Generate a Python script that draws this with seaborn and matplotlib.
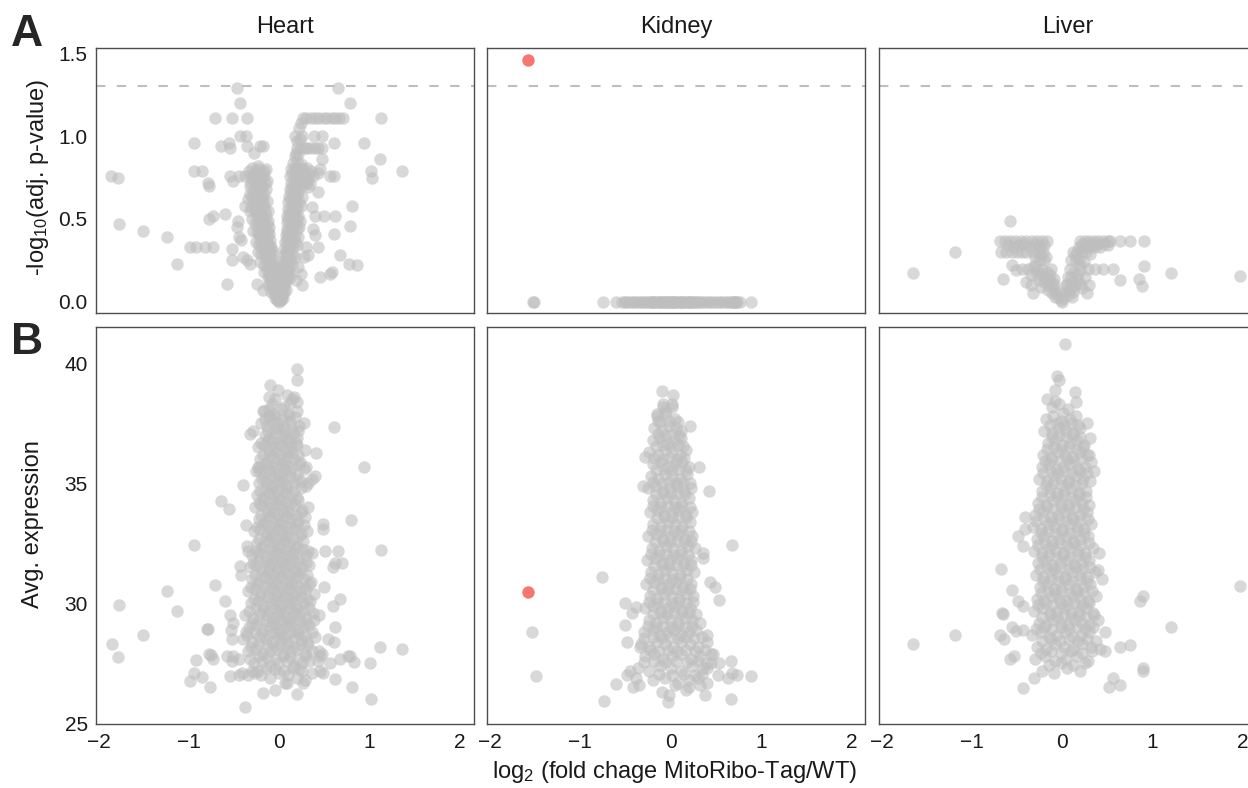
import pandas as pd
import matplotlib
matplotlib.use("Agg")
import matplotlib.pyplot as plt
import seaborn as sns

tissues = ["Heart", "Kidney", "Liver"]
x_ticks = [-2, -1, 0, 1, 2]
p_ticks = [0.0, 0.5, 1.0, 1.5]
expr_ticks = [25, 30, 35, 40]
p_cutoff = 1.30  # -log10(0.05)

# ---- Row A: volcano points (log2 fold change, -log10 adj. p) ----
heart_volcano_spread = [
    (-1.86, 0.76), (-1.79, 0.75), (-1.77, 0.47), (-1.51, 0.43), (-1.24, 0.39), (-1.13, 0.23),
    (-0.99, 0.33), (-0.92, 0.33), (-0.82, 0.33), (-0.73, 0.33), (-0.95, 0.96), (-0.95, 0.79),
    (-0.86, 0.79), (-0.79, 0.72), (-0.78, 0.70), (-0.78, 0.50), (-0.73, 0.52), (-0.71, 1.11),
    (-0.65, 0.94), (-0.60, 0.53), (-0.58, 0.11), (-0.56, 0.96), (-0.55, 0.93), (-0.55, 0.76),
    (-0.51, 0.73), (-0.52, 1.11), (-0.52, 0.32), (-0.52, 0.25), (-0.47, 1.29), (-0.44, 1.20),
    (-0.44, 1.00), (-0.37, 1.00), (-0.36, 1.11), (-0.45, 0.76), (-0.38, 0.76), (-0.46, 0.49),
    (-0.47, 0.45), (-0.45, 0.39), (-0.43, 0.37), (-0.36, 0.94), (-0.28, 0.90), (-0.21, 0.94),
    (-0.18, 0.94), (-0.36, 0.25), (-0.40, 0.27), (-0.32, 0.23), (-0.25, 0.11), (-0.18, 0.07),
    (-0.13, 0.15), (-0.35, 0.62), (-0.33, 0.55), (-0.38, 0.58),
    (0.65, 1.29), (0.78, 1.20), (1.13, 1.11), (0.94, 0.96), (1.11, 0.86), (1.01, 0.79),
    (1.03, 0.75), (1.36, 0.79), (0.80, 0.58), (0.78, 0.46), (0.60, 0.41), (0.62, 0.52),
    (0.49, 0.52), (0.67, 0.28), (0.77, 0.23), (0.86, 0.22), (0.56, 0.17), (0.58, 0.18),
    (0.45, 0.15), (0.43, 0.33), (0.26, 1.11), (0.30, 1.11), (0.35, 1.11), (0.40, 1.11),
    (0.44, 1.11), (0.49, 1.11), (0.53, 1.11), (0.58, 1.11), (0.62, 1.11), (0.66, 1.11),
    (0.70, 1.11), (0.24, 1.08), (0.17, 1.00), (0.25, 1.00), (0.38, 1.00), (0.47, 1.00),
    (0.60, 0.96), (0.20, 0.93), (0.24, 0.93), (0.28, 0.93), (0.31, 0.93), (0.35, 0.93),
    (0.39, 0.93), (0.43, 0.93), (0.47, 0.93), (0.18, 0.90), (0.47, 0.86), (0.45, 0.80),
    (0.43, 0.78), (0.56, 0.76), (0.60, 0.76), (0.43, 0.66), (0.36, 0.57), (0.39, 0.52),
    (0.37, 0.44), (0.39, 0.40), (0.30, 0.33), (0.27, 0.27), (0.32, 0.28), (0.21, 0.21),
    (0.24, 0.17), (0.18, 0.13), (0.25, 0.10),
]
heart_volcano_core = [
    (-0.30, 0.81), (-0.26, 0.79), (-0.22, 0.80), (-0.19, 0.78), (-0.15, 0.80),
    (-0.33, 0.76), (-0.29, 0.75), (-0.25, 0.77), (-0.21, 0.74), (-0.17, 0.76), (-0.14, 0.73),
    (-0.31, 0.72), (-0.27, 0.70), (-0.23, 0.71), (-0.19, 0.69), (-0.16, 0.72),
    (-0.29, 0.67), (-0.25, 0.66), (-0.21, 0.68), (-0.17, 0.65),
    (-0.30, 0.63), (-0.26, 0.61), (-0.22, 0.64), (-0.18, 0.60),
    (-0.28, 0.59), (-0.24, 0.57), (-0.20, 0.58), (-0.16, 0.55),
    (-0.27, 0.55), (-0.23, 0.53), (-0.19, 0.51), (-0.15, 0.52),
    (-0.25, 0.50), (-0.21, 0.48), (-0.17, 0.47), (-0.13, 0.49),
    (-0.24, 0.45), (-0.20, 0.44), (-0.16, 0.43), (-0.12, 0.45),
    (-0.22, 0.41), (-0.18, 0.40), (-0.14, 0.39), (-0.11, 0.41),
    (-0.21, 0.37), (-0.17, 0.36), (-0.13, 0.35), (-0.10, 0.37),
    (-0.19, 0.33), (-0.15, 0.32), (-0.12, 0.31), (-0.09, 0.33),
    (-0.17, 0.29), (-0.14, 0.28), (-0.10, 0.27), (-0.07, 0.29),
    (-0.15, 0.25), (-0.12, 0.24), (-0.09, 0.23), (-0.06, 0.25),
    (-0.13, 0.21), (-0.10, 0.20), (-0.07, 0.19), (-0.05, 0.21),
    (-0.11, 0.17), (-0.08, 0.16), (-0.06, 0.15), (-0.04, 0.17),
    (-0.09, 0.13), (-0.07, 0.12), (-0.04, 0.11), (-0.03, 0.13),
    (-0.07, 0.09), (-0.05, 0.08), (-0.03, 0.07), (-0.02, 0.09),
    (-0.05, 0.05), (-0.03, 0.04), (-0.02, 0.03), (-0.01, 0.05),
    (-0.03, 0.02), (-0.01, 0.01), (0.00, 0.00), (0.01, 0.01),
    (0.22, 1.05), (0.19, 0.97), (0.23, 0.98), (0.17, 0.88), (0.21, 0.89),
    (0.15, 0.84), (0.19, 0.85), (0.24, 0.83),
    (0.13, 0.80), (0.17, 0.81), (0.21, 0.79), (0.26, 0.80), (0.31, 0.81), (0.35, 0.79),
    (0.12, 0.76), (0.16, 0.75), (0.20, 0.77), (0.24, 0.75), (0.28, 0.76), (0.32, 0.74), (0.37, 0.76),
    (0.13, 0.72), (0.17, 0.71), (0.21, 0.73), (0.25, 0.70), (0.30, 0.72), (0.34, 0.71),
    (0.12, 0.68), (0.16, 0.67), (0.20, 0.69),
    (0.11, 0.64), (0.15, 0.63), (0.19, 0.65),
    (0.10, 0.60), (0.14, 0.59), (0.18, 0.61), (0.22, 0.60),
    (0.10, 0.56), (0.14, 0.55), (0.18, 0.57),
    (0.09, 0.52), (0.13, 0.51), (0.17, 0.53), (0.21, 0.52),
    (0.08, 0.48), (0.12, 0.47), (0.16, 0.49),
    (0.08, 0.44), (0.11, 0.43), (0.15, 0.45), (0.19, 0.44),
    (0.07, 0.40), (0.10, 0.39), (0.14, 0.41),
    (0.06, 0.36), (0.09, 0.35), (0.13, 0.37), (0.17, 0.36),
    (0.05, 0.32), (0.08, 0.31), (0.12, 0.33),
    (0.05, 0.28), (0.07, 0.27), (0.10, 0.29), (0.14, 0.28),
    (0.04, 0.24), (0.06, 0.23), (0.09, 0.25),
    (0.03, 0.20), (0.05, 0.19), (0.08, 0.21), (0.11, 0.20),
    (0.03, 0.16), (0.05, 0.15), (0.07, 0.17),
    (0.02, 0.12), (0.04, 0.11), (0.06, 0.13),
    (0.01, 0.08), (0.03, 0.07), (0.05, 0.09),
    (0.01, 0.04), (0.02, 0.03), (0.03, 0.05),
]
heart_volcano_core2 = [
    (-0.34, 0.79), (-0.28, 0.78), (-0.24, 0.82), (-0.20, 0.76), (-0.17, 0.79),
    (-0.32, 0.70), (-0.28, 0.73), (-0.24, 0.69), (-0.20, 0.71), (-0.15, 0.68),
    (-0.33, 0.65), (-0.27, 0.63), (-0.23, 0.62), (-0.19, 0.63), (-0.14, 0.61),
    (-0.31, 0.57), (-0.26, 0.54), (-0.22, 0.56), (-0.17, 0.58), (-0.13, 0.55),
    (-0.30, 0.50), (-0.27, 0.47), (-0.23, 0.49), (-0.18, 0.50), (-0.14, 0.47),
    (-0.29, 0.43), (-0.25, 0.42), (-0.21, 0.40), (-0.17, 0.42), (-0.13, 0.43),
    (-0.26, 0.36), (-0.23, 0.34), (-0.19, 0.38), (-0.15, 0.35), (-0.11, 0.34),
    (-0.24, 0.30), (-0.20, 0.29), (-0.16, 0.31), (-0.12, 0.29), (-0.08, 0.31),
    (-0.21, 0.24), (-0.17, 0.22), (-0.13, 0.26), (-0.10, 0.22), (-0.07, 0.23),
    (-0.17, 0.18), (-0.14, 0.19), (-0.10, 0.15), (-0.07, 0.18), (-0.05, 0.14),
    (-0.13, 0.10), (-0.10, 0.11), (-0.07, 0.10), (-0.05, 0.12), (-0.02, 0.10),
    (-0.09, 0.06), (-0.06, 0.05), (-0.04, 0.06), (-0.01, 0.07),
    (-0.05, 0.02), (-0.03, 0.01), (0.02, 0.02), (0.00, 0.03),
    (0.14, 0.78), (0.18, 0.79), (0.22, 0.81), (0.27, 0.78), (0.33, 0.77), (0.30, 0.74),
    (0.14, 0.70), (0.18, 0.69), (0.23, 0.72), (0.27, 0.73), (0.32, 0.69),
    (0.13, 0.66), (0.17, 0.64), (0.21, 0.66), (0.25, 0.63),
    (0.12, 0.62), (0.16, 0.58), (0.20, 0.56), (0.24, 0.58),
    (0.11, 0.54), (0.15, 0.54), (0.19, 0.50), (0.23, 0.49),
    (0.10, 0.50), (0.14, 0.46), (0.18, 0.47), (0.22, 0.45),
    (0.09, 0.42), (0.13, 0.40), (0.17, 0.40), (0.21, 0.39),
    (0.08, 0.38), (0.11, 0.33), (0.15, 0.33), (0.19, 0.34),
    (0.07, 0.30), (0.10, 0.26), (0.13, 0.25), (0.17, 0.27),
    (0.06, 0.22), (0.08, 0.18), (0.11, 0.17), (0.14, 0.22),
    (0.04, 0.14), (0.07, 0.12), (0.09, 0.14), (0.12, 0.15),
    (0.03, 0.10), (0.05, 0.06), (0.07, 0.07), (0.02, 0.06),
    (0.04, 0.02), (0.02, 0.01),
]
kidney_volcano_fc = [
    -1.52, -1.51, -0.75, -0.61, -0.54, -0.51, -0.49, -0.46, -0.43, -0.41, -0.38, -0.35,
    -0.33, -0.30, -0.28, -0.25, -0.23, -0.21, -0.19, -0.17, -0.15, -0.13, -0.11, -0.09,
    -0.07, -0.05, -0.03, -0.02, 0.00, 0.01, 0.03, 0.05, 0.07, 0.09, 0.11, 0.13, 0.15,
    0.17, 0.19, 0.21, 0.23, 0.25, 0.27, 0.30, 0.32, 0.35, 0.38, 0.41, 0.44, 0.47, 0.50,
    0.53, 0.56, 0.59, 0.62, 0.65, 0.68, 0.70, 0.72, 0.74, 0.77, 0.89,
    -0.20, -0.12, -0.04, 0.04, 0.12, 0.20, 0.28, 0.69, 0.71,
]
kidney_volcano_p = [0.0] * len(kidney_volcano_fc)
liver_volcano = [
    (-1.65, 0.175), (-1.19, 0.30), (-0.58, 0.49), (-0.56, 0.22), (-0.51, 0.19), (-0.66, 0.135),
    (-0.69, 0.367), (-0.64, 0.367), (-0.58, 0.367), (-0.52, 0.367), (-0.46, 0.367),
    (-0.40, 0.367), (-0.34, 0.367), (-0.28, 0.367), (-0.22, 0.367), (-0.17, 0.367),
    (-0.68, 0.30), (-0.62, 0.30), (-0.45, 0.30), (-0.40, 0.30), (-0.33, 0.30), (-0.27, 0.30),
    (-0.21, 0.30), (-0.36, 0.33), (-0.25, 0.33),
    (-0.25, 0.25), (-0.20, 0.25), (-0.30, 0.22), (-0.22, 0.20), (-0.17, 0.18), (-0.28, 0.16),
    (-0.15, 0.14), (-0.20, 0.12), (-0.12, 0.11), (-0.10, 0.08), (-0.16, 0.07), (-0.07, 0.05),
    (-0.05, 0.03), (-0.02, 0.01), (-0.40, 0.12), (-0.35, 0.10), (-0.45, 0.20), (-0.33, 0.05),
    (-0.13, 0.20), (-0.09, 0.14), (-0.24, 0.09), (-0.04, 0.06), (0.00, 0.00),
    (0.20, 0.367), (0.25, 0.367), (0.30, 0.367), (0.35, 0.367), (0.40, 0.367), (0.45, 0.367),
    (0.50, 0.367), (0.53, 0.367), (0.64, 0.367), (0.75, 0.367), (0.90, 0.367),
    (0.18, 0.33), (0.24, 0.33), (0.30, 0.33), (0.36, 0.33), (0.42, 0.33),
    (0.12, 0.30), (0.16, 0.30), (0.22, 0.30),
    (0.10, 0.25), (0.15, 0.25), (0.20, 0.22), (0.08, 0.20), (0.13, 0.18), (0.06, 0.15),
    (0.11, 0.12), (0.17, 0.13), (0.04, 0.10), (0.08, 0.07), (0.03, 0.05), (0.01, 0.02),
    (0.25, 0.15), (0.30, 0.10), (0.22, 0.08), (0.05, 0.11), (0.12, 0.06),
    (0.36, 0.20), (0.45, 0.20), (0.56, 0.20), (0.64, 0.13), (0.85, 0.135), (0.90, 0.215),
    (0.88, 0.095), (1.20, 0.175), (1.97, 0.155),
    (-0.60, 0.34), (-0.54, 0.33), (-0.48, 0.34), (-0.42, 0.35), (-0.30, 0.35), (-0.20, 0.34),
    (-0.56, 0.30), (-0.50, 0.30), (-0.30, 0.27), (-0.24, 0.28), (-0.18, 0.27), (-0.28, 0.19),
    (-0.24, 0.17), (-0.19, 0.15), (-0.26, 0.13), (-0.16, 0.10), (-0.12, 0.05), (-0.08, 0.03),
    (-0.09, 0.11), (-0.14, 0.16), (-0.35, 0.16), (-0.32, 0.21), (-0.38, 0.20),
    (0.22, 0.35), (0.28, 0.35), (0.33, 0.34), (0.38, 0.35), (0.46, 0.35), (0.50, 0.34),
    (0.26, 0.30), (0.31, 0.29), (0.14, 0.28), (0.18, 0.26), (0.24, 0.24), (0.19, 0.19),
    (0.16, 0.16), (0.10, 0.15), (0.14, 0.10), (0.20, 0.11), (0.09, 0.09), (0.06, 0.04),
    (0.11, 0.03), (0.28, 0.20), (0.27, 0.05),
]
kidney_sig_fc = [-1.58]
kidney_sig_p = [1.46]

# ---- Row B: average expression vs log2 fold change ----
heart_ma_spread = [
    (-1.85, 28.30), (-1.79, 27.75), (-1.77, 29.92), (-1.51, 28.69), (-1.24, 30.53), (-1.13, 29.67),
    (-0.95, 32.42), (-0.99, 26.78), (-0.95, 27.08), (-0.86, 26.92), (-0.92, 27.64), (-0.77, 26.53),
    (-0.80, 28.92), (-0.79, 28.95), (-0.78, 27.90), (-0.73, 27.70), (-0.76, 27.85), (-0.71, 30.75),
    (-0.65, 34.26), (-0.56, 33.92), (-0.60, 30.11), (-0.58, 27.80), (-0.51, 27.80), (-0.45, 27.70),
    (-0.55, 26.97), (-0.55, 29.50), (-0.51, 29.20), (-0.53, 28.90), (-0.52, 28.50), (-0.52, 27.60),
    (-0.45, 27.00), (-0.41, 27.10), (-0.44, 31.55), (-0.43, 31.20), (-0.40, 34.93), (-0.37, 33.26),
    (-0.38, 25.69), (-0.36, 32.40), (-0.35, 32.20), (-0.37, 28.80), (-0.33, 37.05), (-0.29, 37.20),
    (-0.35, 27.00), (-0.30, 27.20), (-0.27, 27.10), (-0.18, 26.25), (-0.05, 26.39), (0.06, 26.70),
    (0.09, 26.70), (0.19, 26.22), (0.26, 26.70), (0.28, 26.80), (0.25, 27.20), (0.36, 27.10),
    (0.45, 27.20), (0.48, 27.10), (0.62, 26.83), (0.80, 26.53), (1.02, 26.00), (1.00, 27.50),
    (1.11, 28.17), (1.36, 28.08), (0.83, 27.56), (0.78, 27.80), (0.76, 27.80), (0.67, 27.70),
    (0.56, 27.50), (0.43, 27.60), (0.45, 27.80), (0.44, 28.00), (0.47, 27.90), (0.54, 28.50),
    (0.60, 28.40), (0.62, 29.00), (0.59, 29.90), (0.67, 30.20), (0.49, 30.70), (0.62, 31.70),
    (0.69, 31.70), (0.59, 31.50), (0.50, 32.20), (0.65, 32.20), (0.79, 33.47), (0.48, 33.30),
    (0.48, 33.10), (0.60, 37.33), (0.94, 35.69), (1.13, 32.22), (0.41, 36.28), (0.40, 35.30),
    (0.36, 35.20), (0.20, 39.75), (0.20, 39.30), (-0.10, 39.10), (-0.02, 38.90), (0.16, 38.60),
    (0.19, 38.40), (0.20, 38.00), (-0.17, 38.00), (-0.11, 38.10), (-0.12, 37.80), (0.30, 35.70),
    (0.32, 35.00), (-0.24, 35.70), (-0.22, 35.50),
]
heart_ma_core = [
    (-0.12, 38.6), (-0.05, 38.5), (0.08, 38.7), (0.14, 38.5),
    (-0.18, 38.0), (-0.06, 37.9), (0.02, 38.1), (0.10, 37.9),
    (-0.20, 37.5), (-0.14, 37.4), (-0.08, 37.6), (-0.02, 37.5), (0.05, 37.4), (0.12, 37.6), (0.22, 37.4), (0.27, 37.5),
    (-0.16, 37.0), (-0.10, 36.9), (-0.04, 37.1), (0.03, 37.0), (0.09, 36.9), (0.15, 37.1), (0.20, 36.9),
    (-0.24, 36.5), (-0.17, 36.6), (-0.11, 36.4), (-0.05, 36.5), (0.01, 36.6), (0.07, 36.4), (0.13, 36.5), (0.19, 36.6), (0.28, 36.4),
    (-0.21, 36.0), (-0.14, 35.9), (-0.08, 36.1), (-0.02, 36.0), (0.04, 35.9), (0.10, 36.1), (0.16, 36.0), (0.23, 35.9),
    (-0.26, 35.5), (-0.18, 35.4), (-0.12, 35.6), (-0.06, 35.5), (0.00, 35.4), (0.06, 35.6), (0.12, 35.5), (0.19, 35.4), (0.27, 35.6),
    (-0.22, 35.0), (-0.15, 35.1), (-0.09, 34.9), (-0.03, 35.0), (0.03, 35.1), (0.09, 34.9), (0.16, 35.0), (0.24, 35.1), (0.30, 34.9),
    (-0.25, 34.5), (-0.18, 34.4), (-0.12, 34.6), (-0.06, 34.5), (0.00, 34.4), (0.06, 34.6), (0.13, 34.5), (0.20, 34.4),
    (-0.27, 34.0), (-0.20, 34.1), (-0.14, 33.9), (-0.08, 34.0), (-0.02, 34.1), (0.04, 33.9), (0.10, 34.0), (0.17, 34.1), (0.25, 33.9), (0.32, 34.0),
    (-0.23, 33.5), (-0.16, 33.4), (-0.10, 33.6), (-0.04, 33.5), (0.02, 33.4), (0.08, 33.6), (0.14, 33.5), (0.21, 33.4), (0.28, 33.6),
    (-0.28, 33.0), (-0.21, 33.1), (-0.14, 32.9), (-0.08, 33.0), (-0.02, 33.1), (0.04, 32.9), (0.10, 33.0), (0.17, 33.1), (0.24, 32.9), (0.31, 33.0),
    (-0.25, 32.5), (-0.18, 32.4), (-0.12, 32.6), (-0.06, 32.5), (0.00, 32.4), (0.06, 32.6), (0.12, 32.5), (0.19, 32.4), (0.26, 32.6),
    (-0.30, 32.0), (-0.22, 32.1), (-0.15, 31.9), (-0.09, 32.0), (-0.03, 32.1), (0.03, 31.9), (0.09, 32.0), (0.15, 32.1), (0.22, 31.9), (0.29, 32.0), (0.36, 32.1),
    (-0.33, 31.5), (-0.26, 31.6), (-0.19, 31.4), (-0.12, 31.5), (-0.06, 31.6), (0.00, 31.4), (0.06, 31.5), (0.12, 31.6), (0.18, 31.4), (0.25, 31.5), (0.33, 31.6),
    (-0.30, 31.0), (-0.23, 30.9), (-0.16, 31.1), (-0.10, 31.0), (-0.04, 30.9), (0.02, 31.1), (0.08, 31.0), (0.14, 30.9), (0.20, 31.1), (0.27, 31.0), (0.35, 30.9),
    (-0.35, 30.5), (-0.27, 30.6), (-0.20, 30.4), (-0.13, 30.5), (-0.07, 30.6), (-0.01, 30.4), (0.05, 30.5), (0.11, 30.6), (0.17, 30.4), (0.23, 30.5), (0.30, 30.6), (0.38, 30.4),
    (-0.31, 30.0), (-0.24, 30.1), (-0.17, 29.9), (-0.10, 30.0), (-0.04, 30.1), (0.02, 29.9), (0.08, 30.0), (0.14, 30.1), (0.20, 29.9), (0.27, 30.0), (0.34, 30.1),
    (-0.38, 29.5), (-0.29, 29.4), (-0.21, 29.6), (-0.14, 29.5), (-0.08, 29.4), (-0.02, 29.6), (0.04, 29.5), (0.10, 29.4), (0.16, 29.6), (0.22, 29.5), (0.29, 29.4), (0.37, 29.6), (0.44, 29.5),
    (-0.34, 29.0), (-0.26, 29.1), (-0.18, 28.9), (-0.11, 29.0), (-0.05, 29.1), (0.01, 28.9), (0.07, 29.0), (0.13, 29.1), (0.19, 28.9), (0.26, 29.0), (0.33, 29.1),
    (-0.40, 28.5), (-0.30, 28.4), (-0.22, 28.6), (-0.15, 28.5), (-0.08, 28.4), (-0.02, 28.6), (0.04, 28.5), (0.10, 28.4), (0.17, 28.6), (0.24, 28.5), (0.31, 28.4), (0.40, 28.6),
    (-0.35, 28.0), (-0.26, 28.1), (-0.18, 27.9), (-0.10, 28.0), (-0.03, 28.1), (0.05, 27.9), (0.12, 28.0), (0.20, 28.1), (0.28, 27.9), (0.36, 28.0),
    (-0.28, 27.5), (-0.19, 27.6), (-0.10, 27.4), (-0.01, 27.5), (0.08, 27.6), (0.16, 27.4), (0.25, 27.5), (0.33, 27.6),
    (-0.20, 27.0), (-0.10, 26.9), (0.00, 27.1), (0.10, 27.0), (0.20, 26.9),
]
heart_ma_core2 = [
    (-0.08, 38.3), (0.05, 38.2), (0.12, 38.35),
    (-0.16, 37.7), (-0.10, 37.8), (-0.04, 37.75), (0.04, 37.7), (0.11, 37.8), (0.17, 37.75),
    (-0.13, 37.2), (-0.06, 37.3), (0.00, 37.25), (0.07, 37.2), (0.14, 37.3), (0.21, 37.2),
    (-0.20, 36.7), (-0.13, 36.8), (-0.07, 36.75), (0.00, 36.7), (0.06, 36.8), (0.12, 36.75), (0.18, 36.7),
    (-0.18, 36.2), (-0.11, 36.3), (-0.05, 36.25), (0.02, 36.2), (0.08, 36.3), (0.14, 36.25), (0.21, 36.2),
    (-0.22, 35.7), (-0.15, 35.8), (-0.09, 35.75), (-0.03, 35.7), (0.03, 35.8), (0.09, 35.75), (0.15, 35.7), (0.22, 35.8),
    (-0.19, 35.2), (-0.12, 35.3), (-0.06, 35.25), (0.00, 35.2), (0.06, 35.3), (0.12, 35.25), (0.20, 35.2),
    (-0.21, 34.7), (-0.15, 34.8), (-0.09, 34.75), (-0.03, 34.7), (0.03, 34.8), (0.09, 34.75), (0.16, 34.7), (0.24, 34.8),
    (-0.23, 34.2), (-0.17, 34.3), (-0.11, 34.25), (-0.05, 34.2), (0.01, 34.3), (0.07, 34.25), (0.13, 34.2), (0.21, 34.3),
    (-0.20, 33.7), (-0.13, 33.8), (-0.07, 33.75), (-0.01, 33.7), (0.05, 33.8), (0.11, 33.75), (0.18, 33.7), (0.24, 33.8),
    (-0.25, 33.2), (-0.18, 33.3), (-0.11, 33.25), (-0.05, 33.2), (0.01, 33.3), (0.07, 33.25), (0.13, 33.2), (0.20, 33.3), (0.27, 33.25),
    (-0.22, 32.7), (-0.15, 32.8), (-0.09, 32.75), (-0.03, 32.7), (0.03, 32.8), (0.09, 32.75), (0.15, 32.7), (0.22, 32.8),
    (-0.26, 32.2), (-0.19, 32.3), (-0.12, 32.25), (-0.06, 32.2), (0.00, 32.3), (0.06, 32.25), (0.12, 32.2), (0.18, 32.3), (0.25, 32.25), (0.32, 32.2),
    (-0.29, 31.7), (-0.22, 31.8), (-0.15, 31.75), (-0.09, 31.7), (-0.03, 31.8), (0.03, 31.75), (0.09, 31.7), (0.15, 31.8), (0.21, 31.75), (0.29, 31.7),
    (-0.27, 31.2), (-0.20, 31.3), (-0.13, 31.25), (-0.07, 31.2), (-0.01, 31.3), (0.05, 31.25), (0.11, 31.2), (0.17, 31.3), (0.23, 31.25), (0.31, 31.2),
    (-0.31, 30.7), (-0.24, 30.8), (-0.17, 30.75), (-0.10, 30.7), (-0.04, 30.8), (0.02, 30.75), (0.08, 30.7), (0.14, 30.8), (0.20, 30.75), (0.27, 30.7), (0.33, 30.8),
    (-0.28, 30.2), (-0.21, 30.3), (-0.14, 30.25), (-0.07, 30.2), (-0.01, 30.3), (0.05, 30.25), (0.11, 30.2), (0.17, 30.3), (0.24, 30.25), (0.31, 30.2),
    (-0.34, 29.7), (-0.26, 29.8), (-0.18, 29.75), (-0.11, 29.7), (-0.05, 29.8), (0.01, 29.75), (0.07, 29.7), (0.13, 29.8), (0.19, 29.75), (0.26, 29.7), (0.33, 29.8),
    (-0.30, 29.2), (-0.22, 29.3), (-0.15, 29.25), (-0.08, 29.2), (-0.02, 29.3), (0.04, 29.25), (0.10, 29.2), (0.16, 29.3), (0.23, 29.25), (0.30, 29.2), (0.38, 29.3),
    (-0.36, 28.7), (-0.27, 28.8), (-0.19, 28.75), (-0.12, 28.7), (-0.05, 28.8), (0.01, 28.75), (0.07, 28.7), (0.14, 28.8), (0.21, 28.75), (0.28, 28.7), (0.36, 28.8),
    (-0.31, 28.2), (-0.23, 28.3), (-0.14, 28.25), (-0.06, 28.2), (0.01, 28.3), (0.08, 28.25), (0.16, 28.2), (0.24, 28.3), (0.32, 28.25),
    (-0.33, 27.7), (-0.23, 27.8), (-0.14, 27.75), (-0.05, 27.7), (0.04, 27.8), (0.12, 27.75), (0.21, 27.7), (0.29, 27.8),
    (-0.24, 27.2), (-0.15, 27.3), (-0.05, 27.25), (0.05, 27.2), (0.15, 27.3), (0.22, 27.25),
]
kidney_ma_spread = [
    (-1.53, 28.79), (-1.49, 26.98), (-0.76, 31.08), (-0.74, 25.93),
    (-0.10, 38.86), (0.03, 38.68), (0.02, 38.30), (-0.09, 38.20), (-0.15, 37.90), (-0.14, 37.60),
    (0.21, 37.40), (-0.28, 36.10), (-0.31, 34.90), (0.31, 35.70), (0.43, 34.70), (0.68, 32.42),
    (0.54, 30.14), (0.44, 30.90), (0.36, 32.10), (0.36, 31.90), (0.49, 30.70),
    (-0.51, 30.00), (-0.38, 29.85), (-0.43, 29.60), (-0.50, 29.10), (-0.48, 28.40), (-0.34, 28.20),
    (-0.61, 26.65), (-0.48, 27.00), (-0.38, 26.90), (-0.42, 26.50), (-0.45, 27.20), (-0.35, 26.60),
    (0.89, 26.98), (0.73, 27.00), (0.68, 27.10), (0.64, 26.90), (0.67, 27.60), (0.67, 26.00),
    (0.52, 27.00), (0.53, 27.50), (0.47, 27.90), (0.40, 28.70), (0.45, 27.50), (0.40, 27.30),
    (0.33, 26.60), (0.20, 26.50), (-0.03, 25.90), (-0.02, 26.20), (0.05, 26.60),
]
kidney_ma_core = [
    (-0.09, 38.3), (0.02, 38.2),
    (-0.15, 37.8), (-0.06, 37.9), (0.05, 37.7),
    (-0.18, 37.3), (-0.10, 37.2), (-0.02, 37.4), (0.06, 37.3), (0.12, 37.2),
    (-0.20, 36.8), (-0.12, 36.9), (-0.04, 36.7), (0.04, 36.8), (0.11, 36.9),
    (-0.24, 36.3), (-0.14, 36.2), (-0.06, 36.4), (0.02, 36.3), (0.10, 36.2), (0.17, 36.4),
    (-0.19, 35.8), (-0.11, 35.9), (-0.03, 35.7), (0.05, 35.8), (0.13, 35.9), (0.20, 35.7),
    (-0.22, 35.3), (-0.14, 35.2), (-0.06, 35.4), (0.02, 35.3), (0.10, 35.2), (0.18, 35.4),
    (-0.25, 34.8), (-0.17, 34.9), (-0.09, 34.7), (-0.01, 34.8), (0.07, 34.9), (0.15, 34.7), (0.23, 34.8),
    (-0.20, 34.3), (-0.12, 34.2), (-0.04, 34.4), (0.04, 34.3), (0.12, 34.2), (0.20, 34.4),
    (-0.23, 33.8), (-0.15, 33.9), (-0.07, 33.7), (0.01, 33.8), (0.09, 33.9), (0.17, 33.7), (0.24, 33.8),
    (-0.19, 33.3), (-0.11, 33.2), (-0.03, 33.4), (0.05, 33.3), (0.13, 33.2), (0.21, 33.4),
    (-0.25, 32.8), (-0.16, 32.9), (-0.08, 32.7), (0.00, 32.8), (0.08, 32.9), (0.16, 32.7), (0.24, 32.8),
    (-0.21, 32.3), (-0.13, 32.2), (-0.05, 32.4), (0.03, 32.3), (0.11, 32.2), (0.19, 32.4), (0.27, 32.3),
    (-0.26, 31.8), (-0.17, 31.9), (-0.09, 31.7), (-0.01, 31.8), (0.07, 31.9), (0.15, 31.7), (0.23, 31.8),
    (-0.22, 31.3), (-0.14, 31.2), (-0.06, 31.4), (0.02, 31.3), (0.10, 31.2), (0.18, 31.4), (0.26, 31.3),
    (-0.27, 30.8), (-0.18, 30.9), (-0.10, 30.7), (-0.02, 30.8), (0.06, 30.9), (0.14, 30.7), (0.22, 30.8),
    (-0.23, 30.3), (-0.15, 30.2), (-0.07, 30.4), (0.01, 30.3), (0.09, 30.2), (0.17, 30.4), (0.25, 30.3),
    (-0.28, 29.8), (-0.19, 29.9), (-0.11, 29.7), (-0.03, 29.8), (0.05, 29.9), (0.13, 29.7), (0.21, 29.8),
    (-0.24, 29.3), (-0.16, 29.2), (-0.08, 29.4), (0.00, 29.3), (0.08, 29.2), (0.16, 29.4), (0.24, 29.3), (0.32, 29.2),
    (-0.29, 28.8), (-0.20, 28.9), (-0.12, 28.7), (-0.04, 28.8), (0.04, 28.9), (0.12, 28.7), (0.20, 28.8), (0.28, 28.9),
    (-0.33, 28.3), (-0.24, 28.2), (-0.15, 28.4), (-0.06, 28.3), (0.03, 28.2), (0.12, 28.4), (0.21, 28.3), (0.30, 28.2), (0.40, 28.4),
    (-0.28, 27.8), (-0.18, 27.9), (-0.08, 27.7), (0.02, 27.8), (0.12, 27.9), (0.22, 27.7), (0.33, 27.8), (0.45, 27.9),
    (-0.36, 27.3), (-0.24, 27.2), (-0.12, 27.4), (0.00, 27.3), (0.12, 27.2), (0.24, 27.4), (0.36, 27.3),
    (-0.20, 26.8), (-0.06, 26.9), (0.08, 26.7), (0.20, 26.8), (0.30, 26.9), (0.40, 26.7),
    (-0.10, 26.3), (0.17, 26.4), (0.38, 26.2),
]
kidney_ma_core2 = [
    (-0.05, 38.0), (-0.12, 37.55), (-0.02, 37.6), (0.08, 37.55),
    (-0.14, 37.05), (-0.06, 37.0), (0.02, 37.05), (0.09, 37.0),
    (-0.16, 36.55), (-0.08, 36.6), (0.00, 36.55), (0.08, 36.6), (0.14, 36.55),
    (-0.18, 36.05), (-0.09, 36.0), (-0.01, 36.05), (0.07, 36.0), (0.15, 36.05),
    (-0.16, 35.55), (-0.07, 35.6), (0.01, 35.55), (0.09, 35.6), (0.17, 35.55),
    (-0.19, 35.05), (-0.10, 35.0), (-0.02, 35.05), (0.06, 35.0), (0.14, 35.05), (0.21, 35.0),
    (-0.16, 34.55), (-0.08, 34.6), (0.00, 34.55), (0.08, 34.6), (0.16, 34.55),
    (-0.19, 34.05), (-0.11, 34.0), (-0.03, 34.05), (0.05, 34.0), (0.13, 34.05), (0.21, 34.0),
    (-0.15, 33.55), (-0.07, 33.6), (0.01, 33.55), (0.09, 33.6), (0.17, 33.55),
    (-0.21, 33.05), (-0.12, 33.0), (-0.04, 33.05), (0.04, 33.0), (0.12, 33.05), (0.20, 33.0),
    (-0.17, 32.55), (-0.09, 32.6), (-0.01, 32.55), (0.07, 32.6), (0.15, 32.55), (0.23, 32.6),
    (-0.22, 32.05), (-0.13, 32.0), (-0.05, 32.05), (0.03, 32.0), (0.11, 32.05), (0.19, 32.0),
    (-0.18, 31.55), (-0.10, 31.6), (-0.02, 31.55), (0.06, 31.6), (0.14, 31.55), (0.22, 31.6),
    (-0.23, 31.05), (-0.14, 31.0), (-0.06, 31.05), (0.02, 31.0), (0.10, 31.05), (0.18, 31.0),
    (-0.19, 30.55), (-0.11, 30.6), (-0.03, 30.55), (0.05, 30.6), (0.13, 30.55), (0.21, 30.6),
    (-0.24, 30.05), (-0.15, 30.0), (-0.07, 30.05), (0.01, 30.0), (0.09, 30.05), (0.17, 30.0), (0.25, 30.05),
    (-0.20, 29.55), (-0.12, 29.6), (-0.04, 29.55), (0.04, 29.6), (0.12, 29.55), (0.20, 29.6), (0.28, 29.55),
    (-0.25, 29.05), (-0.16, 29.0), (-0.08, 29.05), (0.00, 29.0), (0.08, 29.05), (0.16, 29.0), (0.24, 29.05),
    (-0.29, 28.55), (-0.20, 28.6), (-0.10, 28.55), (-0.01, 28.6), (0.08, 28.55), (0.17, 28.6), (0.26, 28.55), (0.35, 28.6),
    (-0.23, 28.05), (-0.13, 28.0), (-0.03, 28.05), (0.07, 28.0), (0.17, 28.05), (0.27, 28.0), (0.38, 28.05),
    (-0.30, 27.55), (-0.18, 27.6), (-0.06, 27.55), (0.06, 27.6), (0.18, 27.55), (0.30, 27.6), (0.40, 27.5),
    (-0.13, 27.05), (0.01, 27.0), (0.15, 27.05), (0.27, 27.0), (0.35, 27.05),
]
kidney_sig_expr = [30.49]
liver_ma_spread = [
    (0.03, 40.79), (-0.06, 39.47), (-0.04, 39.30), (-0.08, 38.90), (-0.17, 38.50),
    (-1.65, 28.29), (-1.19, 28.68), (1.97, 30.72), (0.86, 30.11), (0.89, 30.30), (1.20, 29.00),
    (0.89, 27.30), (0.89, 27.20), (0.64, 28.17), (0.75, 28.27), (0.56, 26.90), (0.64, 26.60),
    (0.52, 26.50), (-0.44, 26.46), (-0.31, 26.90), (-0.68, 31.42), (-0.56, 30.56), (-0.49, 30.10),
    (-0.44, 29.90), (-0.67, 29.60), (-0.66, 29.55), (-0.69, 28.70), (-0.65, 28.50), (-0.58, 27.70),
    (-0.54, 27.80), (-0.44, 28.90), (-0.51, 28.85), (-0.56, 29.00), (-0.41, 33.60), (-0.49, 32.80),
    (-0.44, 32.40), (-0.41, 33.10), (0.31, 36.90), (0.29, 36.20), (0.32, 35.90), (0.35, 35.50),
    (0.41, 32.10), (0.40, 31.40), (0.44, 31.00), (0.47, 28.80), (0.47, 28.00), (0.27, 37.50),
    (0.14, 38.80), (0.15, 38.40),
]
liver_ma_core = [
    (-0.12, 38.2), (-0.04, 38.3), (0.06, 38.1),
    (-0.18, 37.7), (-0.10, 37.8), (-0.02, 37.6), (0.08, 37.7), (0.15, 37.8),
    (-0.20, 37.2), (-0.12, 37.1), (-0.04, 37.3), (0.04, 37.2), (0.12, 37.1), (0.20, 37.3),
    (-0.16, 36.7), (-0.08, 36.8), (0.00, 36.6), (0.08, 36.7), (0.16, 36.8), (0.24, 36.6),
    (-0.21, 36.2), (-0.13, 36.1), (-0.05, 36.3), (0.03, 36.2), (0.11, 36.1), (0.19, 36.3), (0.27, 36.2),
    (-0.23, 35.7), (-0.15, 35.8), (-0.07, 35.6), (0.01, 35.7), (0.09, 35.8), (0.17, 35.6), (0.25, 35.7),
    (-0.26, 35.2), (-0.17, 35.1), (-0.09, 35.3), (-0.01, 35.2), (0.07, 35.1), (0.15, 35.3), (0.23, 35.2), (0.31, 35.1),
    (-0.22, 34.7), (-0.14, 34.8), (-0.06, 34.6), (0.02, 34.7), (0.10, 34.8), (0.18, 34.6), (0.26, 34.7),
    (-0.27, 34.2), (-0.18, 34.1), (-0.10, 34.3), (-0.02, 34.2), (0.06, 34.1), (0.14, 34.3), (0.22, 34.2), (0.30, 34.1),
    (-0.30, 33.7), (-0.21, 33.8), (-0.13, 33.6), (-0.05, 33.7), (0.03, 33.8), (0.11, 33.6), (0.19, 33.7), (0.27, 33.8),
    (-0.33, 33.2), (-0.24, 33.1), (-0.16, 33.3), (-0.08, 33.2), (0.00, 33.1), (0.08, 33.3), (0.16, 33.2), (0.24, 33.1), (0.32, 33.3),
    (-0.28, 32.7), (-0.20, 32.8), (-0.12, 32.6), (-0.04, 32.7), (0.04, 32.8), (0.12, 32.6), (0.20, 32.7), (0.28, 32.8),
    (-0.31, 32.2), (-0.23, 32.1), (-0.15, 32.3), (-0.07, 32.2), (0.01, 32.1), (0.09, 32.3), (0.17, 32.2), (0.25, 32.1), (0.34, 32.3),
    (-0.27, 31.7), (-0.19, 31.8), (-0.11, 31.6), (-0.03, 31.7), (0.05, 31.8), (0.13, 31.6), (0.21, 31.7), (0.29, 31.8),
    (-0.29, 31.2), (-0.21, 31.1), (-0.13, 31.3), (-0.05, 31.2), (0.03, 31.1), (0.11, 31.3), (0.19, 31.2), (0.27, 31.1), (0.36, 31.3),
    (-0.25, 30.7), (-0.17, 30.8), (-0.09, 30.6), (-0.01, 30.7), (0.07, 30.8), (0.15, 30.6), (0.23, 30.7), (0.31, 30.8),
    (-0.28, 30.2), (-0.20, 30.1), (-0.12, 30.3), (-0.04, 30.2), (0.04, 30.1), (0.12, 30.3), (0.20, 30.2), (0.28, 30.1), (0.37, 30.3),
    (-0.31, 29.7), (-0.22, 29.8), (-0.14, 29.6), (-0.06, 29.7), (0.02, 29.8), (0.10, 29.6), (0.18, 29.7), (0.26, 29.8), (0.34, 29.6),
    (-0.26, 29.2), (-0.18, 29.1), (-0.10, 29.3), (-0.02, 29.2), (0.06, 29.1), (0.14, 29.3), (0.22, 29.2), (0.30, 29.1), (0.40, 29.3),
    (-0.34, 28.7), (-0.24, 28.8), (-0.15, 28.6), (-0.06, 28.7), (0.03, 28.8), (0.12, 28.6), (0.21, 28.7), (0.30, 28.8),
    (-0.28, 28.2), (-0.18, 28.1), (-0.08, 28.3), (0.02, 28.2), (0.12, 28.1), (0.22, 28.3), (0.32, 28.2), (0.42, 28.1),
    (-0.30, 27.7), (-0.19, 27.8), (-0.08, 27.6), (0.04, 27.7), (0.16, 27.8), (0.28, 27.6),
    (-0.22, 27.2), (-0.09, 27.1), (0.05, 27.3), (0.19, 27.2),
]
liver_ma_core2 = [
    (-0.08, 38.45), (0.01, 37.95), (-0.14, 37.45), (-0.06, 37.5), (0.02, 37.45), (0.10, 37.5), (0.17, 37.45),
    (-0.12, 36.95), (-0.04, 37.0), (0.04, 36.95), (0.12, 37.0), (0.20, 36.95),
    (-0.17, 36.45), (-0.09, 36.5), (-0.01, 36.45), (0.07, 36.5), (0.15, 36.45), (0.23, 36.5),
    (-0.19, 35.95), (-0.11, 36.0), (-0.03, 35.95), (0.05, 36.0), (0.13, 35.95), (0.21, 36.0),
    (-0.21, 35.45), (-0.13, 35.5), (-0.05, 35.45), (0.03, 35.5), (0.11, 35.45), (0.19, 35.5), (0.27, 35.45),
    (-0.18, 34.95), (-0.10, 35.0), (-0.02, 34.95), (0.06, 35.0), (0.14, 34.95), (0.22, 35.0),
    (-0.23, 34.45), (-0.14, 34.5), (-0.06, 34.45), (0.02, 34.5), (0.10, 34.45), (0.18, 34.5), (0.26, 34.45),
    (-0.26, 33.95), (-0.17, 34.0), (-0.09, 33.95), (-0.01, 34.0), (0.07, 33.95), (0.15, 34.0), (0.23, 33.95),
    (-0.29, 33.45), (-0.20, 33.5), (-0.12, 33.45), (-0.04, 33.5), (0.04, 33.45), (0.12, 33.5), (0.20, 33.45), (0.28, 33.5),
    (-0.24, 32.95), (-0.16, 33.0), (-0.08, 32.95), (0.00, 33.0), (0.08, 32.95), (0.16, 33.0), (0.24, 32.95),
    (-0.27, 32.45), (-0.19, 32.5), (-0.11, 32.45), (-0.03, 32.5), (0.05, 32.45), (0.13, 32.5), (0.21, 32.45), (0.29, 32.5),
    (-0.23, 31.95), (-0.15, 32.0), (-0.07, 31.95), (0.01, 32.0), (0.09, 31.95), (0.17, 32.0), (0.25, 31.95),
    (-0.25, 31.45), (-0.17, 31.5), (-0.09, 31.45), (-0.01, 31.5), (0.07, 31.45), (0.15, 31.5), (0.23, 31.45), (0.31, 31.5),
    (-0.21, 30.95), (-0.13, 31.0), (-0.05, 30.95), (0.03, 31.0), (0.11, 30.95), (0.19, 31.0), (0.27, 30.95),
    (-0.24, 30.45), (-0.16, 30.5), (-0.08, 30.45), (0.00, 30.5), (0.08, 30.45), (0.16, 30.5), (0.24, 30.45), (0.33, 30.5),
    (-0.27, 29.95), (-0.18, 30.0), (-0.10, 29.95), (-0.02, 30.0), (0.06, 29.95), (0.14, 30.0), (0.22, 29.95), (0.30, 30.0),
    (-0.22, 29.45), (-0.14, 29.5), (-0.06, 29.45), (0.02, 29.5), (0.10, 29.45), (0.18, 29.5), (0.26, 29.45), (0.35, 29.5),
    (-0.29, 28.95), (-0.20, 29.0), (-0.11, 28.95), (-0.02, 29.0), (0.07, 28.95), (0.16, 29.0), (0.25, 28.95), (0.34, 29.0),
    (-0.23, 28.45), (-0.13, 28.5), (-0.03, 28.45), (0.07, 28.5), (0.17, 28.45), (0.27, 28.5), (0.37, 28.45),
    (-0.24, 27.95), (-0.13, 28.0), (-0.02, 27.95), (0.10, 28.0), (0.22, 27.95), (0.33, 28.0),
    (-0.15, 27.45), (-0.02, 27.5), (0.12, 27.45), (0.25, 27.5),
]

GREY = "#BEBEBE"
RED = "#F8766D"
POINT_SIZE = 80

sns.set_theme(style="white")
plt.rcParams["font.family"] = ["Liberation Sans", "DejaVu Sans"]
plt.rcParams["mathtext.fontset"] = "custom"
plt.rcParams["mathtext.rm"] = "Liberation Sans"
plt.rcParams["mathtext.it"] = "Liberation Sans:italic"


def pairs_to_df(*groups):
    return pd.concat([pd.DataFrame(g, columns=["fc", "y"]) for g in groups])


volcano_data = [
    pairs_to_df(heart_volcano_spread, heart_volcano_core, heart_volcano_core2),
    pd.DataFrame({"fc": kidney_volcano_fc, "y": kidney_volcano_p}),
    pairs_to_df(liver_volcano),
]
ma_data = [
    pairs_to_df(heart_ma_spread, heart_ma_core, heart_ma_core2),
    pairs_to_df(kidney_ma_spread, kidney_ma_core, kidney_ma_core2),
    pairs_to_df(liver_ma_spread, liver_ma_core, liver_ma_core2),
]

W, H = 1248, 788
fig = plt.figure(figsize=(W / 100, H / 100), dpi=100)
lefts = [96 / W, 487.3 / W, 879 / W]
width = 378 / W
top_axes = [fig.add_axes([l, (H - 313) / H, width, 265.3 / H]) for l in lefts]
bot_axes = [fig.add_axes([l, (H - 724.3) / H, width, 397 / H]) for l in lefts]


def style_axis(ax):
    for sp in ax.spines.values():
        sp.set_color("#4d4d4d")
        sp.set_linewidth(1.0)
    ax.tick_params(direction="out", length=4.5, width=1, color="#333333",
                   labelsize=15, labelcolor="#1a1a1a", pad=1.5)
    ax.set_xlabel("")
    ax.set_ylabel("")
    ax.set_xlim(-2.03, 2.155)


for i, ax in enumerate(top_axes):
    sns.scatterplot(data=volcano_data[i], x="fc", y="y", ax=ax, color=GREY,
                    alpha=0.6, s=POINT_SIZE, linewidth=0, legend=False)
    if tissues[i] == "Kidney":
        sns.scatterplot(x=kidney_sig_fc, y=kidney_sig_p, ax=ax, color=RED,
                        s=POINT_SIZE, linewidth=0, legend=False)
    ax.axhline(p_cutoff, color="#BEBEBE", lw=1.5, ls=(0, (4.5, 5.5)), zorder=0)
    style_axis(ax)
    ax.set_ylim(-0.068, 1.534)
    ax.set_xticks([])
    if i == 0:
        ax.set_yticks(p_ticks)
        ax.set_yticklabels([f"{v:.1f}" for v in p_ticks])
    else:
        ax.set_yticks([])

for i, ax in enumerate(bot_axes):
    sns.scatterplot(data=ma_data[i], x="fc", y="y", ax=ax, color=GREY,
                    alpha=0.6, s=POINT_SIZE, linewidth=0, legend=False)
    if tissues[i] == "Kidney":
        sns.scatterplot(x=kidney_sig_fc, y=kidney_sig_expr, ax=ax, color=RED,
                        s=POINT_SIZE, linewidth=0, legend=False)
    style_axis(ax)
    ax.set_ylim(24.96, 41.5)
    ax.set_xticks(x_ticks)
    if i == 0:
        ax.set_yticks(expr_ticks)
    else:
        ax.set_yticks([])

# facet titles
for l, name in zip(lefts, tissues):
    fig.text(l + width / 2, 1 - 27 / H, name, ha="center", va="center",
             fontsize=17, color="#1a1a1a")

# panel letters
fig.text(11 / W, 1 - 34 / H, "A", fontsize=32, fontweight="bold", va="center", ha="left")
fig.text(11 / W, 1 - 342 / H, "B", fontsize=32, fontweight="bold", va="center", ha="left")

# axis labels
fig.text(38 / W, 1 - 177 / H, "-log$_{10}$(adj. p-value)", rotation=90,
         ha="center", va="center", fontsize=17, color="#1a1a1a")
fig.text(33 / W, 1 - 524 / H, "Avg. expression", rotation=90,
         ha="center", va="center", fontsize=17, color="#1a1a1a")
fig.text(675 / W, 1 - 772 / H, "log$_2$ (fold chage MitoRibo-Tag/WT)",
         ha="center", va="center", fontsize=17, color="#1a1a1a")

fig.savefig("out.png", dpi=100)
